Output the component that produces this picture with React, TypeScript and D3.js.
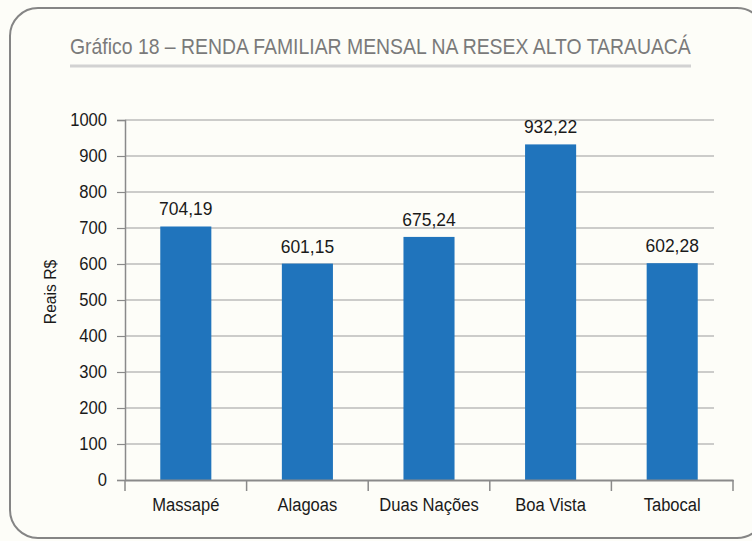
import * as d3 from 'd3';
import React, { useEffect, useRef } from 'react';

const categories = ['Massapé', 'Alagoas', 'Duas Nações', 'Boa Vista', 'Tabocal'];
const renda = [704.19, 601.15, 675.24, 932.22, 602.28];
const yTicks = [0, 100, 200, 300, 400, 500, 600, 700, 800, 900, 1000];
const title = 'Gráfico 18 – RENDA FAMILIAR MENSAL NA RESEX ALTO TARAUACÁ';
const yLabel = 'Reais R$';

const FONT = "'Liberation Sans', Arial, sans-serif";

// squeeze text horizontally to mimic the condensed face of the original
const condense = (sel: any, factor: number) => {
  sel.each(function (this: SVGTextElement) {
    const len = this.getComputedTextLength();
    d3.select(this).attr('textLength', len * factor).attr('lengthAdjust', 'spacingAndGlyphs');
  });
};

export default function App() {
  const ref = useRef<SVGSVGElement>(null);

  useEffect(() => {
    const svg = d3.select(ref.current);
    svg.selectAll('*').remove();
    const width = 752;
    const height = 541;
    const margin = { top: 120, right: 19, bottom: 61, left: 125 };
    const gridRight = 714;

    // frame, right edge runs off the picture
    svg.append('rect')
      .attr('x', 0).attr('y', 0).attr('width', width).attr('height', height)
      .attr('fill', '#fdfdf8');
    svg.append('rect')
      .attr('x', 10).attr('y', 8).attr('width', 755).attr('height', 530)
      .attr('rx', 28).attr('ry', 28)
      .attr('fill', 'none').attr('stroke', '#858585').attr('stroke-width', 2);

    // title, scaled to the width of the rule under it
    const titleG = svg.append('g');
    const titleText = titleG.append('text')
      .attr('x', 0).attr('y', 0)
      .attr('font-family', FONT).attr('font-size', 22)
      .attr('fill', '#7a7a7a')
      .text(title);
    const tLen = (titleText.node() as SVGTextElement).getComputedTextLength();
    titleG.attr('transform', `translate(70,54) scale(${621 / tLen},1)`);
    svg.append('line')
      .attr('x1', 70).attr('x2', 691).attr('y1', 66).attr('y2', 66)
      .attr('stroke', '#d2d2d2').attr('stroke-width', 3);

    const x = d3.scaleBand()
      .domain(categories)
      .range([margin.left, width - margin.right])
      .paddingInner(0.58)
      .paddingOuter(0.29);
    const y = d3.scaleLinear()
      .domain([0, 1000])
      .range([height - margin.bottom, margin.top]);
    const step = x.step();
    const x0 = margin.left;

    // gridlines
    svg.append('g')
      .selectAll('line')
      .data(yTicks.filter((t) => t > 0))
      .join('line')
      .attr('x1', margin.left).attr('x2', gridRight)
      .attr('y1', (d) => y(d)).attr('y2', (d) => y(d))
      .attr('stroke', '#9c9c9c').attr('stroke-width', 1.2);

    // y axis
    const yAxis = svg.append('g')
      .attr('transform', `translate(${margin.left},0)`)
      .call(d3.axisLeft(y).tickValues(yTicks).tickSize(8).tickPadding(10).tickFormat(d3.format('d')));
    yAxis.select('.domain').attr('stroke', '#8a8a8a').attr('stroke-width', 1.5);
    yAxis.selectAll('.tick line').attr('stroke', '#8a8a8a').attr('stroke-width', 1.2);
    yAxis.selectAll('.tick text')
      .attr('font-family', FONT).attr('font-size', 18).attr('fill', '#1a1a1a')
      .call(condense, 0.92);

    // bars
    svg.append('g')
      .attr('fill', '#2074bc')
      .selectAll('rect')
      .data(renda)
      .join('rect')
      .attr('x', (d, i) => x(categories[i]) as number)
      .attr('width', x.bandwidth())
      .attr('y', (d) => y(d))
      .attr('height', (d) => y(0) - y(d));

    // value labels
    svg.append('g')
      .selectAll('text')
      .data(renda)
      .join('text')
      .attr('x', (d, i) => (x(categories[i]) as number) + x.bandwidth() / 2)
      .attr('y', (d) => y(d) - 11)
      .attr('text-anchor', 'middle')
      .attr('font-family', FONT).attr('font-size', 18).attr('fill', '#1a1a1a')
      .text((d) => d.toFixed(2).replace('.', ','))
      .call(condense, 0.97);

    // x axis
    const xAxis = svg.append('g')
      .attr('transform', `translate(0,${y(0)})`)
      .call(d3.axisBottom(x).tickSize(0).tickPadding(18));
    xAxis.select('.domain').attr('stroke', '#8a8a8a').attr('stroke-width', 2);
    xAxis.selectAll('.tick text')
      .attr('font-family', FONT).attr('font-size', 18).attr('fill', '#1a1a1a')
      .call(condense, 0.92);
    xAxis.selectAll('.sep')
      .data(d3.range(categories.length + 1))
      .join('line')
      .attr('class', 'sep')
      .attr('x1', (i) => x0 + i * step).attr('x2', (i) => x0 + i * step)
      .attr('y1', 0).attr('y2', 11)
      .attr('stroke', '#8a8a8a').attr('stroke-width', 1.5);

    // y label
    svg.append('text')
      .attr('transform', `translate(56,292) rotate(-90)`)
      .attr('text-anchor', 'middle')
      .attr('font-family', FONT).attr('font-size', 17).attr('fill', '#1a1a1a')
      .text(yLabel)
      .call(condense, 0.92);
  }, []);

  return (
    <svg ref={ref} width={752} height={541} viewBox="0 0 752 541"
      style={{ position: 'absolute', left: 0, top: 0, display: 'block' }} />
  );
}
